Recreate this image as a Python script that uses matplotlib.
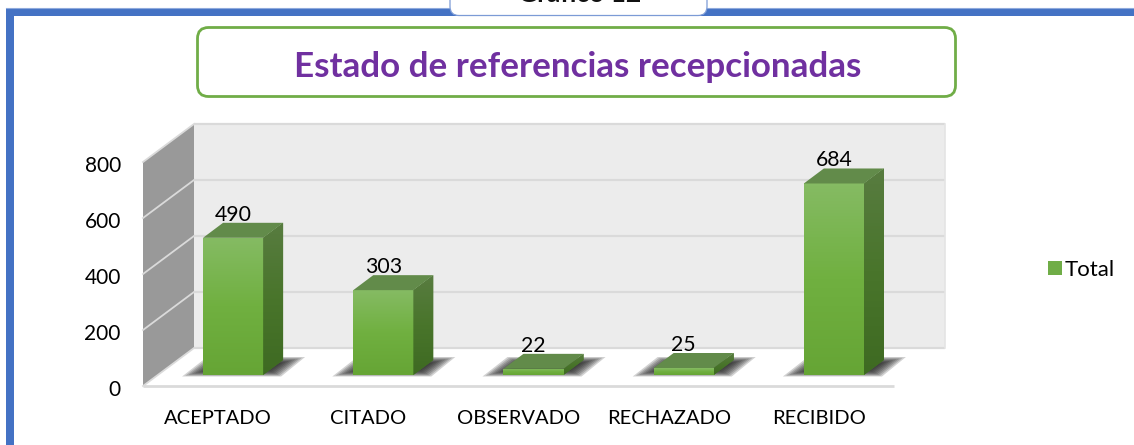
import numpy as np
import matplotlib
matplotlib.use("Agg")
import matplotlib.pyplot as plt
from matplotlib.patches import Polygon, Rectangle, FancyBboxPatch
from matplotlib.colors import LinearSegmentedColormap
from matplotlib.transforms import ScaledTranslation

categories = ["ACEPTADO", "CITADO", "OBSERVADO", "RECHAZADO", "RECIBIDO"]
values = [490, 303, 22, 25, 684]
y_ticks = [0, 200, 400, 600, 800]
title = "Estado de referencias recepcionadas"
tab_text = "Gráfico 12"
series_name = "Total"

W, H, DPI = 1134, 445, 100
plt.rcParams["font.family"] = ["Lato", "DejaVu Sans"]
fig = plt.figure(figsize=(W / DPI, H / DPI), dpi=DPI, facecolor="white")

# geometry of the pseudo-3D chart, in pixels
L, R, Y0 = 143, 894, 386          # front plane
SCALE = 0.28                      # pixels per unit
WALL_DX, WALL_DY = 51, 38         # depth of the chart box
BAR_DX, BAR_DY = 15, 11           # offset of bar front faces
DEPTH_X, DEPTH_Y = 20, 15         # depth of each bar
BAR_W = 0.4
Y_TOP = 800

# ---- background layer (pixel coordinates)
bg = fig.add_axes([0, 0, 1, 1], zorder=0)
bg.set_xlim(0, W); bg.set_ylim(H, 0); bg.axis("off")
BLUE = "#4472C4"
bg.add_patch(Rectangle((6, 8), 8, H, fc=BLUE, ec="none"))
bg.add_patch(Rectangle((6, 8), W, 8, fc=BLUE, ec="none"))
bg.plot([6, W], [8.3, 8.3], color="#8FAADC", lw=0.8)
bg.add_patch(FancyBboxPatch((450, -20), 257, 35.5, boxstyle="round,pad=0,rounding_size=9",
                            fc="white", ec="#7C9BD6", lw=0.9, zorder=3))
bg.text(580, 2.5, tab_text, ha="center", va="baseline", fontsize=19, fontweight="bold",
        color="#111111", zorder=4, clip_on=True)
bg.add_patch(FancyBboxPatch((197.5, 27.5), 758, 69, boxstyle="round,pad=0,rounding_size=11",
                            fc="white", ec="#70AD47", lw=2))
bg.text(578, 64, title, ha="center", va="center_baseline", fontsize=25.2, fontweight="bold",
        color="#7030A0")

bx0, bx1 = L + WALL_DX, R + WALL_DX + 0
by0 = Y0 - WALL_DY
by1 = by0 - Y_TOP * SCALE
GRID = "#DADADA"
bg.add_patch(Rectangle((bx0, by1), bx1 - bx0, by0 - by1, fc="#ECECEC", ec="none"))
bg.add_patch(Polygon([(L, Y0), (L, Y0 - Y_TOP * SCALE), (bx0, by1), (bx0, by0)],
                     fc="#999999", ec="none"))
for v in y_ticks:
    d = v * SCALE
    bg.plot([bx0, bx1], [by0 - d, by0 - d], color=GRID, lw=1.6, solid_capstyle="butt")
    bg.plot([L, bx0], [Y0 - d, by0 - d], color=GRID, lw=1.3)
bg.plot([L, R], [Y0, Y0], color=GRID, lw=2, solid_capstyle="butt")
bg.plot([bx1, bx1], [by1, by0], color="#E4E4E4", lw=1.2)

# ---- chart layer
ax = fig.add_axes([L / W, 1 - Y0 / H, (R - L) / W, Y_TOP * SCALE / H], zorder=1)
ax.patch.set_alpha(0)
ax.set_xlim(-0.5, len(categories) - 0.5)
ax.set_ylim(0, Y_TOP)
for s in ax.spines.values():
    s.set_visible(False)
ax.set_xticks(range(len(categories)), categories)
ax.set_yticks(y_ticks)
ax.tick_params(axis="both", length=0, labelsize=14.5, colors="black")
ax.tick_params(axis="x", pad=17)
ax.tick_params(axis="y", pad=16, labelsize=15)
for lab in ax.get_yticklabels():
    lab.set_transform(lab.get_transform() + ScaledTranslation(0, -2 / DPI, fig.dpi_scale_trans))

px_x = len(categories) / (R - L)   # data x per pixel
px_y = 1 / SCALE                   # data y per pixel
off = ax.transData + ScaledTranslation(BAR_DX / DPI, BAR_DY / DPI, fig.dpi_scale_trans)
dx, dy = DEPTH_X * px_x, DEPTH_Y * px_y

front_cmap = LinearSegmentedColormap.from_list("f", ["#66A535", "#70B040", "#85BB63"])
side_cmap = LinearSegmentedColormap.from_list("s", ["#3E6A22", "#49752B", "#587C40"])
grad = np.linspace(1, 0, 64).reshape(-1, 1)

x = np.arange(len(categories))
bars = ax.bar(x, values, width=BAR_W, color="#70AD47", transform=off, zorder=3,
              clip_on=False, label=series_name)

for xi, v, bar in zip(x, values, bars):
    x0, x1 = xi - BAR_W / 2, xi + BAR_W / 2
    # soft floor shadow
    for k in range(10):
        i = 9 - k
        ins_x, ins_y = i * 1.6 * px_x, i * 0.8 * px_y
        shadow = [(x0 - 21 * px_x + 2 * ins_x, -1.5 * px_y + ins_y),
                  (x1 + 18 * px_x - ins_x, -1.5 * px_y + ins_y),
                  (x1 + 42 * px_x - 2 * ins_x, 18 * px_y - ins_y),
                  (x0 + 4 * px_x + ins_x, 18 * px_y - ins_y)]
        ax.add_patch(Polygon(shadow, fc="#1E1E1E", ec="none", alpha=0.2, transform=off,
                             zorder=2, clip_on=False))
    # gradient on the front face
    img = ax.imshow(grad, cmap=front_cmap, extent=(x0, x1, 0, v), aspect="auto", transform=off,
                    zorder=3.1, vmin=0, vmax=1)
    img.set_clip_path(bar)
    # side face
    side = Polygon([(x1, 0), (x1 + dx, dy), (x1 + dx, v + dy), (x1, v)], fc="#49752B",
                   ec="none", transform=off, zorder=3, clip_on=False)
    ax.add_patch(side)
    img2 = ax.imshow(grad, cmap=side_cmap, extent=(x1, x1 + dx, 0, v + dy), aspect="auto",
                     transform=off, zorder=3.1, vmin=0, vmax=1)
    img2.set_clip_path(side)
    # top face
    ax.add_patch(Polygon([(x0, v), (x1, v), (x1 + dx, v + dy), (x0 + dx, v + dy)], fc="#628B4A",
                         ec="none", transform=off, zorder=3.2, clip_on=False))
    ax.annotate(str(v), xy=(xi, v + dy), xycoords=off, xytext=(0, 2), textcoords="offset pixels",
                ha="center", va="baseline", fontsize=15.3, color="black", zorder=5)

ax.set_xlim(-0.5, len(categories) - 0.5)
ax.set_ylim(0, Y_TOP)

handles, labels = ax.get_legend_handles_labels()
ax.legend(handles, labels, loc="center left", bbox_to_anchor=(1048 / W, 1 - 270 / H),
          bbox_transform=fig.transFigure, frameon=False, fontsize=16, handlelength=0.62,
          handleheight=0.62, handletextpad=0.12, borderpad=0, borderaxespad=0)

fig.savefig("out.png", dpi=DPI)
